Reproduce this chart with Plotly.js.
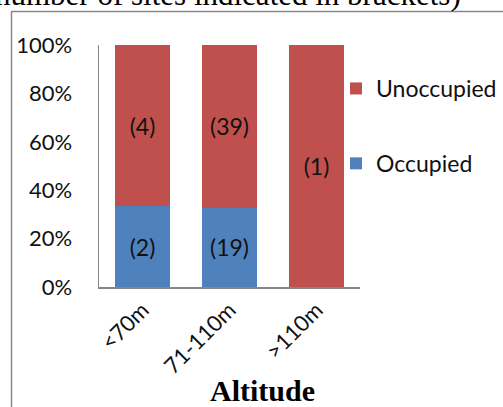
<!DOCTYPE html>
<html><head><meta charset="utf-8">
<script src="https://cdn.plot.ly/plotly-3.0.1.min.js"></script>
<style>html,body{margin:0;padding:0;background:#fff}</style>
</head><body>
<div id="chart" style="width:503px;height:407px"></div>
<script>
const categories = ['<70m', '71-110m', '>110m'];
const occupied = [2, 19, 0];
const unoccupied = [4, 39, 1];
const yTicks = [0, 20, 40, 60, 80, 100];
const yTickText = ['0%', '20%', '40%', '60%', '80%', '100%'];

const font = 'Lato, "Open Sans", sans-serif';
const serif = '"Liberation Serif", "Times New Roman", serif';
const lbl = arr => arr.map(v => v > 0 ? '(' + v + ')' : '');

const traces = [
  {type:'bar', name:'Occupied', x:categories, y:occupied, text:lbl(occupied),
   marker:{color:'#4F81BD'}, legendgroup:'a', legendrank: 2, textposition:'inside', insidetextanchor:'middle',
   textfont:{family:font, size:23, color:'#111'}, hoverinfo:'none', cliponaxis:false},
  {type:'bar', name:'Unoccupied', x:categories, y:unoccupied, text:lbl(unoccupied),
   marker:{color:'#C0504D'}, legendgroup:'b', legendrank: 1, textposition:'inside', insidetextanchor:'middle',
   textfont:{family:font, size:23, color:'#111'}, hoverinfo:'none', cliponaxis:false}
];

const L = 99, R = 360, T = 45, B = 287, W = 503, H = 407;
const px = p => (p - L) / (R - L);
const py = p => (B - p) / (B - T);

const layout = {
  width: W, height: H,
  margin: {l: L, r: W - R, t: T, b: H - B, pad: 0, autoexpand: false},
  paper_bgcolor: '#fff', plot_bgcolor: '#fff',
  barmode: 'stack', barnorm: 'percent', bargap: 0.36,
  font: {family: font, size: 22, color: '#111'},
  showlegend: true,
  legend: {x: px(336), y: py(67), xanchor: 'left', yanchor: 'top', traceorder: 'grouped',
           tracegroupgap: 42, font: {family: font, size: 23, color: '#111'}, itemwidth: 30,
           bgcolor: 'rgba(0,0,0,0)'},
  xaxis: {type: 'category', showline: true, linecolor: '#868686', linewidth: 1.5,
          ticks: '', tickangle: -45, showgrid: false, zeroline: false,
          tickfont: {family: font, size: 22, color: '#111'}, fixedrange: true},
  yaxis: {range: [0, 100], tickvals: yTicks, ticktext: yTickText, showline: true,
          linecolor: '#868686', linewidth: 1.5, ticks: '', showgrid: false, zeroline: false,
          ticklabelstandoff: 21, tickfont: {family: font, size: 22, color: '#111'}, fixedrange: true},
  annotations: [
    {text: 'number of sites indicated in brackets)', xref: 'paper', yref: 'paper',
     x: px(463), y: py(14.5), xanchor: 'right', yanchor: 'bottom', showarrow: false,
     font: {family: serif, size: 31, color: '#000'}},
    {text: '<b>Altitude</b>', xref: 'paper', yref: 'paper', x: px(262), y: py(390),
     xanchor: 'center', yanchor: 'middle', showarrow: false,
     font: {family: serif, size: 30, color: '#000'}}
  ],
  shapes: [
    {type: 'line', xref: 'paper', yref: 'paper', x0: px(11.5), x1: px(11.5), y0: py(11), y1: py(410),
     line: {color: '#888', width: 1.5}},
    {type: 'line', xref: 'paper', yref: 'paper', x0: px(11), x1: px(510), y0: py(11.5), y1: py(11.5),
     line: {color: '#888', width: 1.5}}
  ]
};

Plotly.newPlot('chart', traces, layout, {displayModeBar: false, staticPlot: true});
</script>
</body></html>
